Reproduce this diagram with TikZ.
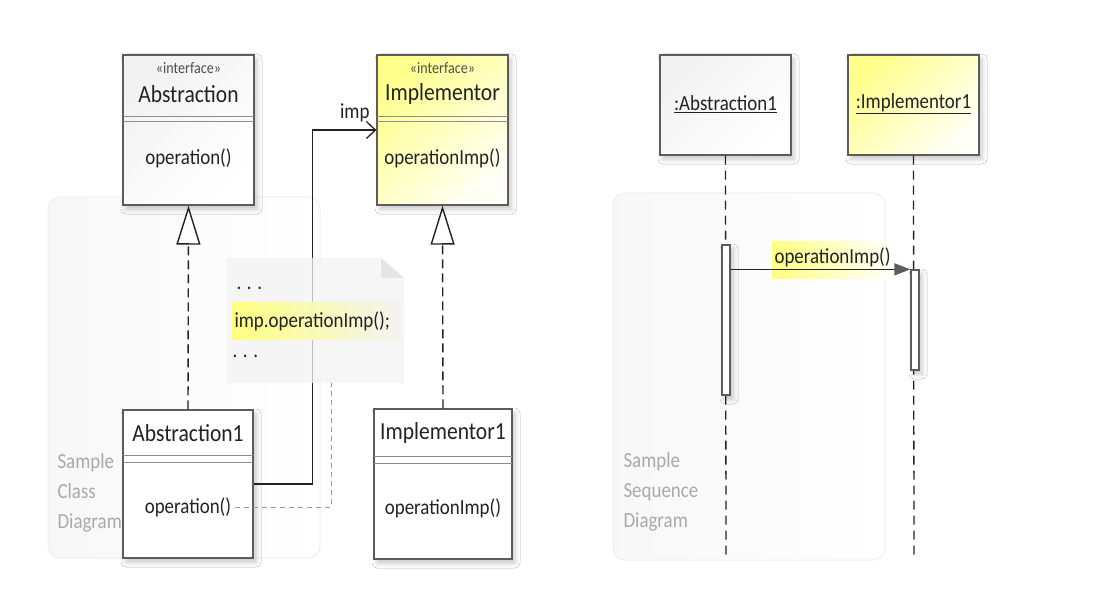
\documentclass[tikz,border=0pt]{standalone}
\usepackage{fontspec}
\setmainfont{Carlito}
\newfontfamily\narrowfont[FakeStretch=0.88]{Carlito}
\usetikzlibrary{arrows.meta,shadows.blur,calc}
\definecolor{ink}{HTML}{222222}
\definecolor{edge}{HTML}{5C5C5C}
\definecolor{hint}{HTML}{A9A9A9}
\definecolor{frameline}{HTML}{EFEFEF}
\definecolor{notefill}{HTML}{F3F3F3}
\definecolor{hilite}{HTML}{FFFF80}
\tikzset{
  boxshadow/.style={blur shadow={shadow xshift=3pt,shadow yshift=-4pt,shadow blur radius=5pt,shadow opacity=22}},
  umlbox/.style={draw=edge,line width=1.3pt,rectangle,inner sep=0pt,boxshadow},
  plainfill/.style={fill=white},
  grayfill/.style={top color=black!5,bottom color=white,shading angle=45},
  yellowfill/.style={top color=yellow!45,bottom color=yellow!3,shading angle=45},
  divider/.style={draw=edge!70,line width=1pt},
  namefont/.style={font=\narrowfont\fontsize{24.5}{27}\selectfont,text=ink},
  opfont/.style={font=\narrowfont\fontsize{21.5}{24}\selectfont,text=ink},
  stereofont/.style={font=\narrowfont\fontsize{16}{18}\selectfont,text=ink!80},
  hintfont/.style={font=\narrowfont\fontsize{21.5}{30}\selectfont,text=hint,align=left,anchor=north west},
  panel/.style={draw=frameline,line width=1pt,rounded corners=12pt,left color=black!3,right color=white},
  realize/.style={draw=ink,line width=1.4pt,dash pattern=on 9pt off 5pt,-{Triangle[open,length=39pt,width=24pt,fill=white]}},
  assoc/.style={draw=ink,line width=1.4pt,-{Straight Barb[length=9pt,width=17pt,line width=1.3pt]}},
  notelink/.style={draw=black!40,line width=1pt,dash pattern=on 5pt off 4pt},
  lifeline/.style={draw=ink,line width=1.3pt,dash pattern=on 9pt off 6pt},
  activation/.style={draw=edge,line width=1.3pt,fill=white,rectangle,inner sep=0pt,minimum width=8pt,boxshadow},
  message/.style={draw=ink,line width=1.4pt,-{Triangle[length=16pt,width=12pt,fill=edge,color=edge]}},
}
\begin{document}
\begin{tikzpicture}[x=1pt,y=-1pt]
\useasboundingbox[fill=white] (0,0) rectangle (1096,604);

% ---------------- class diagram ----------------
\draw[panel] (48,197) rectangle (320,558);
\node[hintfont] (classhint) at (54,450) {Sample\\Class\\Diagram};

% interfaces
\node[umlbox,grayfill,minimum width=131pt,minimum height=150pt] (abs) at (188.5,130) {};
\draw[divider] (123,117) -- (254,117) (123,122) -- (254,122);
\node[stereofont] (absst) at (188.5,68) {«interface»};
\node[namefont] (absname) at (188.5,94) {Abstraction};
\node[opfont] (absop) at (188.5,158) {operation()};

\node[umlbox,yellowfill,minimum width=131pt,minimum height=150pt] (impl) at (442.5,130) {};
\draw[divider] (377,117) -- (508,117) (377,122) -- (508,122);
\node[stereofont] (implst) at (442.5,68) {«interface»};
\node[namefont] (implname) at (442.5,94) {Implementor};
\node[opfont] (implop) at (442.5,158) {operationImp()};

% concrete classes
\node[umlbox,plainfill,minimum width=130pt,minimum height=148pt] (a1) at (188,484) {};
\draw[divider] (123,455) -- (253,455) (123,462) -- (253,462);
\node[namefont] (a1name) at (188,433) {Abstraction1};
\node[opfont] (a1op) at (188,507) {operation()};

\node[umlbox,plainfill,minimum width=138pt,minimum height=150pt] (i1) at (443,484) {};
\draw[divider] (374,456) -- (512,456) (374,463) -- (512,463);
\node[namefont] (i1name) at (443,433) {Implementor1};
\node[opfont] (i1op) at (443,508) {operationImp()};

% relations
\draw[realize] (a1.north) -- (abs.south);
\draw[realize] (i1.north) -- (impl.south);
\draw[assoc] (a1.east) -- ++(59,0) |- (impl.west);
\node[opfont,anchor=south east] (implrole) at (373,125) {imp};

% note attached to operation()
\fill[notefill,opacity=0.75] (227,258) -- (381,258) -- (404,278) -- (404,383) -- (227,383) -- cycle;
\fill[black!10] (381,258) -- (381,278) -- (404,278) -- cycle;
\fill[left color=hilite,right color=notefill] (232,303) rectangle (402,340);
\node[opfont,anchor=west] (dots1) at (233,288) {. . .};
\node[opfont,anchor=west] (notecall) at (231,321) {imp.operationImp();};
\node[opfont,anchor=west] (dots2) at (229,356) {. . .};
\coordinate (notefoot) at (331,383);
\draw[notelink] (a1op.east) -| (notefoot);

% ---------------- sequence diagram ----------------
\draw[panel] (613,193) rectangle (885,560);
\node[hintfont] (seqhint) at (620,449) {Sample\\Sequence\\Diagram};

\node[umlbox,grayfill,minimum width=131pt,minimum height=100pt] (sa) at (725.5,105) {};
\node[opfont] (saname) at (725.5,104) {\underline{:Abstraction1}};
\node[umlbox,yellowfill,minimum width=131pt,minimum height=100pt] (si) at (913.5,105) {};
\node[opfont] (siname) at (913.5,104) {\underline{:Implementor1}};

\coordinate (saend) at (726,560);
\coordinate (siend) at (914,560);
\draw[lifeline] (sa.south) -- (saend);
\draw[lifeline] (si.south) -- (siend);

\node[activation,minimum height=150pt] (act1) at (726,320) {};
\node[activation,minimum height=100pt] (act2) at (915,320) {};

\fill[left color=hilite,right color=white] (772,242) rectangle (895,279);
\node[opfont,anchor=west] (msglabel) at (771,257) {operationImp()};
\draw[message] ($(act1.north east)+(0,25)$) -- (act2.north west);
\end{tikzpicture}
\end{document}
